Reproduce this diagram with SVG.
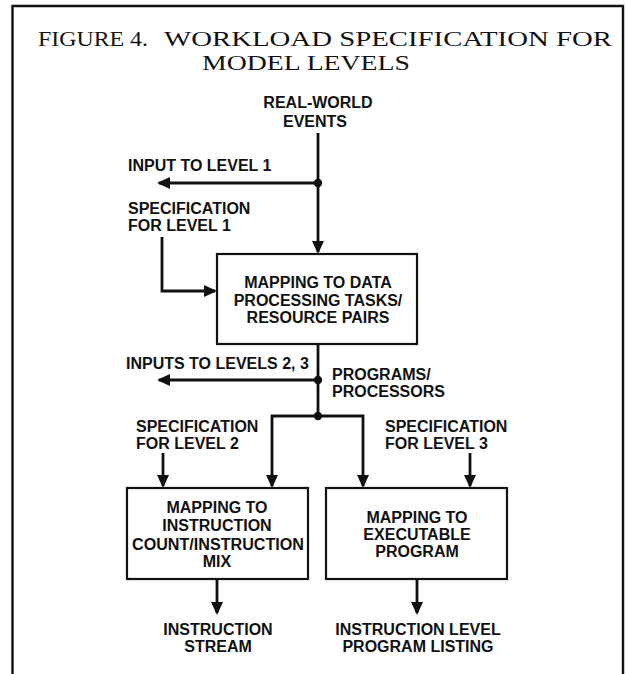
<svg xmlns="http://www.w3.org/2000/svg" width="626" height="674" viewBox="0 0 626 674">
  <style>
    .title { font-family: "Liberation Serif", "DejaVu Serif", serif; font-size: 21px; fill: #111; }
    .lbl { font-family: "Liberation Sans", Arial, sans-serif; font-weight: bold; font-size: 16px; fill: #111; }
    .mid { text-anchor: middle; }
    .box { fill: #fff; stroke: #111; stroke-width: 2.2; }
    .wire { fill: none; stroke: #111; stroke-width: 2.8; }
    .dot { fill: #111; }
    .frame { fill: none; stroke: #111; stroke-width: 2.4; }
  </style>
  <defs>
    <marker id="arrow" markerUnits="userSpaceOnUse" markerWidth="14" markerHeight="12" refX="11" refY="6" orient="auto">
      <path d="M0,0 L13,6 L0,12 z" fill="#111"/>
    </marker>
  </defs>

  <rect width="626" height="674" fill="#fff"/>

  <!-- open-bottomed frame -->
  <path class="frame" d="M12.5,674 V6 H623 V674"/>

  <!-- caption -->
  <g id="caption">
    <text class="title" x="38" y="46" textLength="110" lengthAdjust="spacingAndGlyphs">FIGURE 4.</text>
    <text class="title" x="164" y="46" textLength="448" lengthAdjust="spacingAndGlyphs">WORKLOAD SPECIFICATION FOR</text>
    <text class="title" x="202" y="70" textLength="208" lengthAdjust="spacingAndGlyphs">MODEL LEVELS</text>
  </g>

  <!-- connectors -->
  <g id="connectors">
    <path class="wire" d="M318,133 V252" marker-end="url(#arrow)"/>
    <path class="wire" d="M318,183 H159" marker-end="url(#arrow)"/>
    <circle class="dot" cx="318" cy="183" r="4.2"/>
    <path class="wire" d="M162,237 V291 H215" marker-end="url(#arrow)"/>

    <path class="wire" d="M318,344 V416"/>
    <path class="wire" d="M318,380 H159" marker-end="url(#arrow)"/>
    <circle class="dot" cx="318" cy="380" r="4.2"/>
    <path class="wire" d="M318,416 H272 V486" marker-end="url(#arrow)"/>
    <path class="wire" d="M318,416 H363 V486" marker-end="url(#arrow)"/>
    <circle class="dot" cx="318" cy="416" r="4.2"/>
    <path class="wire" d="M163,453 V486" marker-end="url(#arrow)"/>
    <path class="wire" d="M470,453 V486" marker-end="url(#arrow)"/>

    <path class="wire" d="M217,579 V613" marker-end="url(#arrow)"/>
    <path class="wire" d="M417,579 V613" marker-end="url(#arrow)"/>
  </g>

  <!-- free labels -->
  <g id="real-world-events">
    <text class="lbl mid" x="318" y="108">REAL-WORLD</text>
    <text class="lbl mid" x="315" y="127">EVENTS</text>
  </g>
  <g id="input-level-1">
    <text class="lbl" x="128" y="171">INPUT TO LEVEL 1</text>
  </g>
  <g id="spec-level-1">
    <text class="lbl" x="128" y="214">SPECIFICATION</text>
    <text class="lbl" x="128" y="231">FOR LEVEL 1</text>
  </g>
  <g id="inputs-levels-2-3">
    <text class="lbl" x="126" y="369">INPUTS TO LEVELS 2, 3</text>
  </g>
  <g id="programs-processors">
    <text class="lbl" x="332" y="380">PROGRAMS/</text>
    <text class="lbl" x="332" y="397">PROCESSORS</text>
  </g>
  <g id="spec-level-2">
    <text class="lbl" x="136" y="432">SPECIFICATION</text>
    <text class="lbl" x="136" y="449">FOR LEVEL 2</text>
  </g>
  <g id="spec-level-3">
    <text class="lbl" x="385" y="432">SPECIFICATION</text>
    <text class="lbl" x="385" y="449">FOR LEVEL 3</text>
  </g>

  <!-- mapping boxes -->
  <g id="map-tasks">
    <rect class="box" x="217" y="254" width="200" height="90"/>
    <text class="lbl mid" x="318" y="288">MAPPING TO DATA</text>
    <text class="lbl mid" x="318" y="306">PROCESSING TASKS/</text>
    <text class="lbl mid" x="318" y="323">RESOURCE PAIRS</text>
  </g>
  <g id="map-instruction-mix">
    <rect class="box" x="127" y="488" width="181" height="91"/>
    <text class="lbl mid" x="217" y="513">MAPPING TO</text>
    <text class="lbl mid" x="217" y="531">INSTRUCTION</text>
    <text class="lbl mid" x="218" y="550" textLength="172" lengthAdjust="spacingAndGlyphs">COUNT/INSTRUCTION</text>
    <text class="lbl mid" x="217" y="567">MIX</text>
  </g>
  <g id="map-executable">
    <rect class="box" x="326" y="488" width="181" height="91"/>
    <text class="lbl mid" x="417" y="523">MAPPING TO</text>
    <text class="lbl mid" x="417" y="540">EXECUTABLE</text>
    <text class="lbl mid" x="417" y="557">PROGRAM</text>
  </g>

  <!-- outputs -->
  <g id="instruction-stream">
    <text class="lbl mid" x="218" y="635">INSTRUCTION</text>
    <text class="lbl mid" x="218" y="652">STREAM</text>
  </g>
  <g id="program-listing">
    <text class="lbl mid" x="418" y="635">INSTRUCTION LEVEL</text>
    <text class="lbl mid" x="418" y="652">PROGRAM LISTING</text>
  </g>
</svg>
